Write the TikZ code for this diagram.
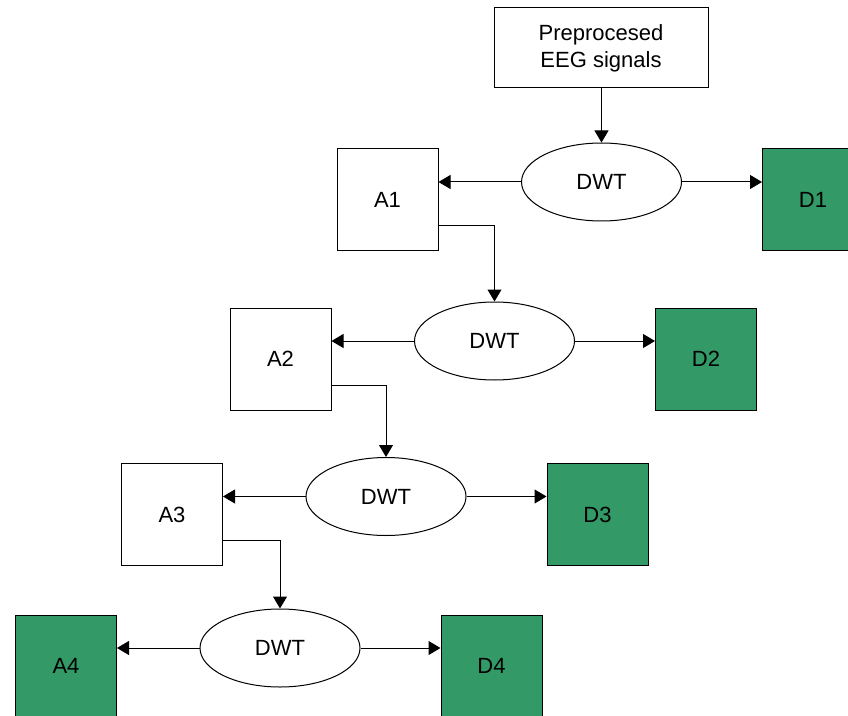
\documentclass[tikz,border=0pt]{standalone}
\usepackage{fontspec}
\setmainfont{Liberation Sans}
\usetikzlibrary{positioning, shapes.geometric, arrows.meta}
\tikzstyle{diagram} = [x = 0.75pt, y = -0.75pt, every node/.style={font=\fontsize{16.5}{20}\selectfont}]
\definecolor{detailColor}{RGB}{51,153,102}
\tikzstyle{bandBox} = [draw=black, line width=0.75pt, minimum width=75.75pt, minimum height=76.5pt, inner sep=0pt]
\tikzstyle{approxBox} = [bandBox, fill=white]
\tikzstyle{detailBox} = [bandBox, fill=detailColor]
\tikzstyle{dwtStyle} = [draw=black, ellipse, fill=white, line width=0.75pt, minimum width=120pt, minimum height=58.5pt, inner sep=0pt]
\tikzstyle{flowArrow} = [draw=black, line width=0.75pt, -{Triangle[length=9pt, width=10.5pt]}]
% one decomposition level: index, x and y of the DWT, style of the approximation box
\newcommand{\dwtLevel}[4]{
  \node [dwtStyle] (dwt#1) at (#2, #3) {DWT};
  \node [#4] (a#1) at (#2 - 214, #3 + 18) {A#1};
  \node [detailBox] (d#1) at (#2 + 211.5, #3 + 18) {D#1};
  \draw [flowArrow] (dwt#1.west) -- (dwt#1.west -| a#1.east);
  \draw [flowArrow] (dwt#1.east) -- (dwt#1.east -| d#1.west);
}

\begin{document}
\begin{tikzpicture}[diagram]
  \clip (0,0) rectangle (848,716);
  \node [bandBox, minimum width=160.5pt, minimum height=60pt, align=center] (signals) at (601, 48) {Preprocesed\\EEG signals};

  \dwtLevel{1}{601.5}{182}{approxBox}
  \dwtLevel{2}{494.5}{341}{approxBox}
  \dwtLevel{3}{386}{496.5}{approxBox}
  \dwtLevel{4}{280}{648}{detailBox}

  \draw [flowArrow] (signals.south -| dwt1.north) -- (dwt1.north);
  \foreach \level/\next in {1/2, 2/3, 3/4} {
    \draw [flowArrow] ([yshift=-19.5pt]a\level.east) -| (dwt\next.north);
  }
\end{tikzpicture}
\end{document}
